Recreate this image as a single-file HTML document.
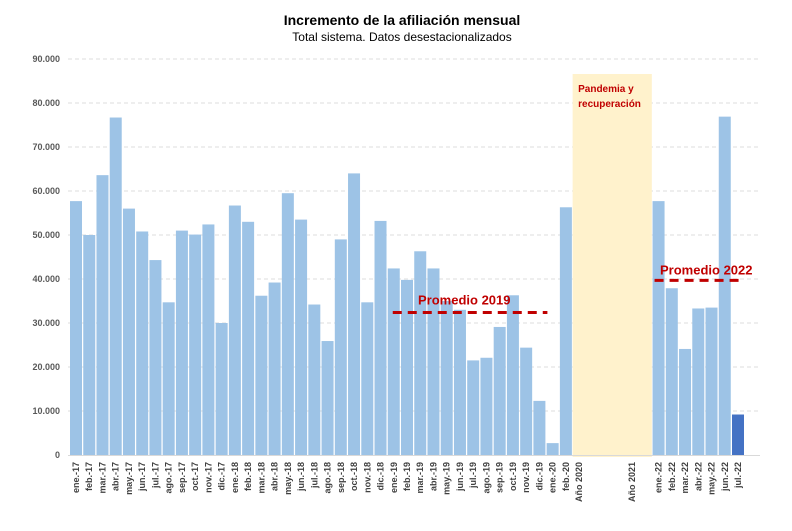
<!DOCTYPE html>
<html><head><meta charset="utf-8"><style>
body{margin:0;background:#fff;font-family:"Liberation Sans",sans-serif;}
</style></head><body>
<svg id="chart" width="792" height="526" xmlns="http://www.w3.org/2000/svg">
<text x="402" y="25" text-anchor="middle" font-size="14" font-weight="bold" fill="#000">Incremento de la afiliación mensual</text>
<text x="402" y="41" text-anchor="middle" font-size="12" fill="#000">Total sistema. Datos desestacionalizados</text>
<g id="grid"></g><g id="bars"></g><g id="xlabels"></g>
</svg>
<script>
const categories=["ene.-17","feb.-17","mar.-17","abr.-17","may.-17","jun.-17","jul.-17","ago.-17","sep.-17","oct.-17","nov.-17","dic.-17","ene.-18","feb.-18","mar.-18","abr.-18","may.-18","jun.-18","jul.-18","ago.-18","sep.-18","oct.-18","nov.-18","dic.-18","ene.-19","feb.-19","mar.-19","abr.-19","may.-19","jun.-19","jul.-19","ago.-19","sep.-19","oct.-19","nov.-19","dic.-19","ene.-20","feb.-20","Año 2020","","","","Año 2021","","ene.-22","feb.-22","mar.-22","abr.-22","may.-22","jun.-22","jul.-22"];
const values=[57700,50000,63600,76700,56000,50800,44300,34700,51000,50100,52400,30000,56700,53000,36200,39200,59500,53500,34200,25900,49000,64000,34700,53200,42400,39800,46300,42400,35000,33000,21500,22100,29100,36300,24400,12300,2700,56300,null,null,null,null,null,null,57700,37900,24100,33300,33500,76900,9200];
const yTicks=[0,10000,20000,30000,40000,50000,60000,70000,80000,90000];
const yTickLabels=["0","10.000","20.000","30.000","40.000","50.000","60.000","70.000","80.000","90.000"];
const avg2019=32400, avg2022=39700;
const NS="http://www.w3.org/2000/svg";
const y=v=>455-v*(396/90000);
const x=i=>76+i*13.24;
function mk(t,a,p){const e=document.createElementNS(NS,t);for(const k in a)e.setAttribute(k,a[k]);p.appendChild(e);return e;}
const svg=document.getElementById('chart'),grid=document.getElementById('grid'),bars=document.getElementById('bars'),xl=document.getElementById('xlabels');
yTicks.forEach((t,i)=>{
 if(t>0){const l=mk('line',{x1:68,x2:760,y1:y(t),y2:y(t),stroke:'#ddd','stroke-dasharray':'4,3'},grid);
 
 }
 const tx=mk('text',{x:60,y:y(t)+3,'text-anchor':'end','font-size':'9','font-weight':'bold',fill:'#595959'},grid);
 tx.textContent=yTickLabels[i];
 
 
});
const pz=mk('rect',{x:x(38)-6.5,y:74,width:x(43)-x(38)+13,height:383,fill:'#fff2cc'},bars);


const pt=mk('text',{x:x(38)-1,y:92,'font-size':'10','font-weight':'bold',fill:'#c00000'},bars);pt.textContent='Pandemia y';


const pt2=mk('text',{x:x(38)-1,y:107,'font-size':'10','font-weight':'bold',fill:'#c00000'},bars);pt2.textContent='recuperación';


values.forEach((v,i)=>{
 if(v!==null){const r=mk('rect',{x:x(i)-6,y:y(v),width:12,height:455-y(v),fill:i===values.length-1?'#4472c4':'#9dc3e6'},bars);
 
 }
 if(categories[i]){const t=mk('text',{transform:`translate(${x(i)+3},462) rotate(-90)`,'text-anchor':'end','font-size':'9','font-weight':'bold',fill:'#404040'},xl);
 t.textContent=categories[i];
 
 }
});
mk('line',{x1:68,x2:760,y1:455.5,y2:455.5,stroke:'#d9d9d9'},bars);
const a1=mk('line',{x1:x(24)-1,x2:x(35)+8,y1:y(avg2019),y2:y(avg2019),stroke:'#c00000','stroke-width':3,'stroke-dasharray':'9,6'},bars);


const t1=mk('text',{x:418,y:y(avg2019)-8,'font-size':'13','font-weight':'bold',fill:'#c00000'},bars);t1.textContent='Promedio 2019';


const a2=mk('line',{x1:x(44)-4,x2:x(50)+6,y1:y(avg2022),y2:y(avg2022),stroke:'#c00000','stroke-width':3,'stroke-dasharray':'9,6'},bars);


const t2=mk('text',{x:660,y:y(avg2022)-6,'font-size':'13','font-weight':'bold',fill:'#c00000'},bars);t2.textContent='Promedio 2022';


</script>
</body></html>
